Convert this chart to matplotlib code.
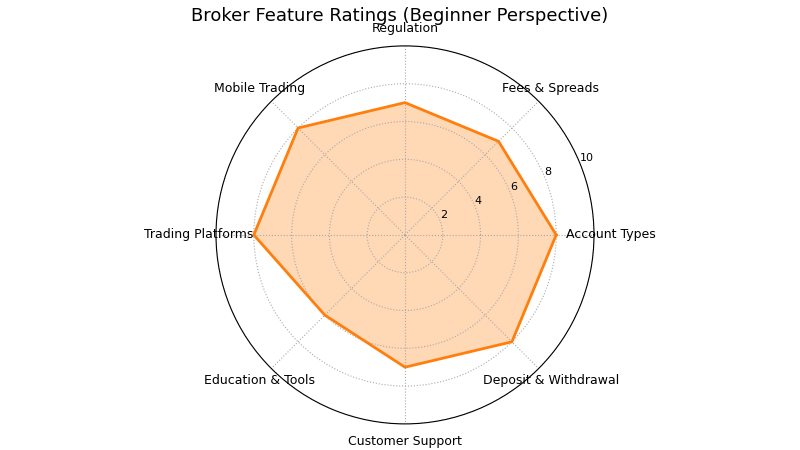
import numpy as np
import matplotlib.pyplot as plt

categories = ["Account Types", "Fees & Spreads", "Regulation", "Mobile Trading",
              "Trading Platforms", "Education & Tools", "Customer Support",
              "Deposit & Withdrawal"]
ratings = [8, 7, 7, 8, 8, 6, 7, 8]

angles = np.linspace(0, 2 * np.pi, len(categories), endpoint=False)
vals = ratings + ratings[:1]
angs = np.concatenate([angles, angles[:1]])

fig = plt.figure(figsize=(8, 4.5), dpi=100)
ax = fig.add_axes([0.27, 0.058, 0.4725, 0.84], projection="polar")
ax.plot(angs, vals, color="#ff7f0e", lw=2)
ax.fill(angs, vals, color="#ff7f0e", alpha=0.3)
ax.set_ylim(0, 10)
ax.set_yticks([2, 4, 6, 8, 10])
ax.set_yticklabels(["2", "4", "6", "8", "10"], fontsize=8)
ax.set_xticks(angles)
ax.set_xticklabels(categories, fontsize=9)
ax.tick_params(axis="x", pad=2)
ax.grid(linestyle=":", color="#aaaaaa", lw=0.8)
fig.text(0.5, 1 - 16 / 450, "Broker Feature Ratings (Beginner Perspective)",
         fontsize=13, ha="center", va="center")
fig.savefig("out.png", dpi=100)
